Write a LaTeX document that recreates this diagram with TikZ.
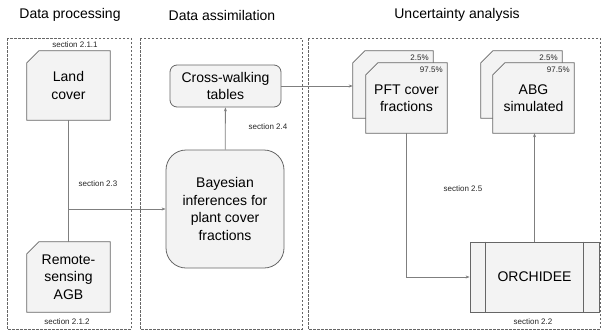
\documentclass[tikz,border=0pt]{standalone}
\usepackage{fontspec}
\setmainfont{Liberation Sans}
\usetikzlibrary{arrows.meta,backgrounds}

\definecolor{boxfill}{HTML}{F3F3F3}
\definecolor{boxline}{HTML}{666666}
\definecolor{linkline}{HTML}{7F7F7F}

% outline of a card with a cut top-left corner, drawn round a named node
\newcommand{\cardframe}[1]{%
	\filldraw[draw=boxline, fill=boxfill, line width=0.8pt, line join=miter]
		(#1.south west) -- ([yshift=-12pt]#1.north west) -- ([xshift=12pt]#1.north west)
		-- (#1.north east) -- (#1.south east) -- cycle;}

\tikzset{
	card/.style={rectangle, align=center, font=\fontsize{14}{17.5}\selectfont, inner sep=0pt},
	rbox/.style={rectangle, rounded corners=7pt, draw=boxline, fill=boxfill,
		line width=0.8pt, align=center, font=\fontsize{14}{17.5}\selectfont, inner sep=0pt},
	group/.style={draw=boxline, dash pattern=on 2.5pt off 1.5pt, line width=0.7pt},
	link/.style={draw=linkline, line width=0.8pt, -{Stealth[length=4pt,width=3pt]}},
	note/.style={font=\fontsize{8}{9}\selectfont, text=black!85},
	title/.style={font=\fontsize{14}{17}\selectfont}
}

\begin{document}
\begin{tikzpicture}[x=1pt, y=-1pt]
	\useasboundingbox (0,0) rectangle (603,330);
	% column titles
	\node[title] (tproc) at (70,15) {Data processing};
	\node[title] (tassim) at (222,15) {Data assimilation};
	\node[title] (tunc) at (457,15) {Uncertainty analysis};
	% dashed groups
	\draw[group] (7,38) rectangle (131,329);
	\draw[group] (140,38) rectangle (302,329);
	\draw[group] (308,38) rectangle (600,329);

	% data processing
	\node[card, minimum width=83pt, minimum height=69pt] (land) at (68.5,85.5) {Land\\cover};
	\node[card, minimum width=83pt, minimum height=70pt] (agb) at (68.5,277) {Remote-\\sensing\\AGB};
	\node[note] (s211) at (75,45) {section 2.1.1};
	\node[note] (s212) at (67,322) {section 2.1.2};

	% data assimilation
	\node[rbox, minimum width=111pt, minimum height=42pt] (cwt) at (225.5,86) {Cross-walking\\tables};
	\node[rbox, rounded corners=20pt, minimum width=118pt, minimum height=118pt] (bayes) at (225,209)
		{Bayesian\\inferences for\\plant cover\\fractions};
	\node[note] (s23) at (98,184) {section 2.3};
	\node[note] (s24) at (268,127) {section 2.4};

	% uncertainty analysis
	\node[card, minimum width=80pt, minimum height=67pt] (pftlow) at (393,84.5) {};
	\node[card, minimum width=81pt, minimum height=70pt] (pft) at (406.5,98) {PFT cover\\fractions};
	\node[card, minimum width=81pt, minimum height=67pt] (abglow) at (521.5,84.5) {};
	\node[card, minimum width=81pt, minimum height=70pt] (abg) at (533.5,98) {ABG\\simulated};
	\node[note, anchor=north east] (plow) at ([xshift=-1pt,yshift=-1pt]pftlow.north east) {2.5\%};
	\node[note, anchor=north east] (phigh) at ([xshift=-1pt,yshift=-1pt]pft.north east) {97.5\%};
	\node[note, anchor=north east] (alow) at ([xshift=-1pt,yshift=-1pt]abglow.north east) {2.5\%};
	\node[note, anchor=north east] (ahigh) at ([xshift=-1pt,yshift=-1pt]abg.north east) {97.5\%};
	\node[rectangle, draw=boxline, fill=boxfill, line width=0.8pt, minimum width=129pt, minimum height=70pt,
		font=\fontsize{14}{17}\selectfont] (orc) at (534.5,277) {ORCHIDEE};
	\draw[draw=boxline, line width=0.8pt] ([xshift=16pt]orc.north west) -- ([xshift=16pt]orc.south west);
	\draw[draw=boxline, line width=0.8pt] ([xshift=-16pt]orc.north east) -- ([xshift=-16pt]orc.south east);
	\node[note] (s25) at (463,189) {section 2.5};
	\node[note] (s22) at (533,322) {section 2.2};

	% card outlines go under the text
	\begin{scope}[on background layer]
		\cardframe{land}
		\cardframe{agb}
		\cardframe{pftlow}
		\cardframe{pft}
		\cardframe{abglow}
		\cardframe{abg}
	\end{scope}

	% connectors
	\coordinate (split) at (land.south |- bayes.west);
	\draw[link, -] (land) -- (agb);
	\draw[link] (split) -- (bayes.west);
	\draw[link] (bayes) -- (cwt);
	\draw[link] (cwt.east) -- (cwt.east -| pftlow.west);
	\draw[link] (pft.south) |- (orc.west);
	\draw[link] (orc.north) -- (orc.north |- abg.south);
\end{tikzpicture}
\end{document}
